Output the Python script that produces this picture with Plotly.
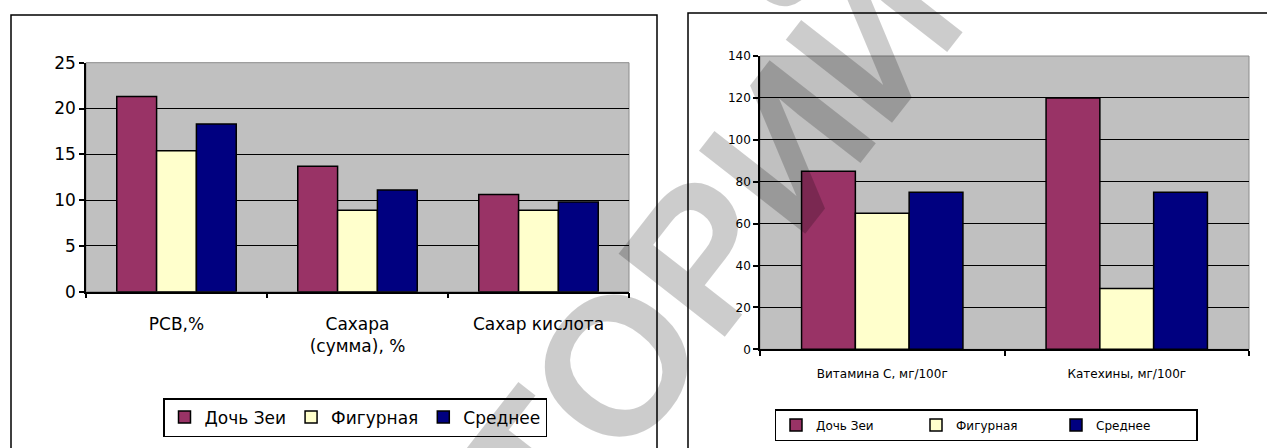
import plotly.graph_objects as go

# Left chart: composition indicators
left_categories = ["РСВ,%", "Сахара<br>(сумма), %", "Сахар кислота"]
left_doch_zei = [21.3, 13.7, 10.6]
left_figurnaya = [15.4, 8.9, 8.9]
left_srednee = [18.3, 11.1, 9.8]
left_yticks = [0, 5, 10, 15, 20, 25]

# Right chart: vitamin C and catechins
right_categories = ["Витамина С, мг/100г", "Катехины, мг/100г"]
right_doch_zei = [85, 120]
right_figurnaya = [65, 29]
right_srednee = [75, 75]
right_yticks = [0, 20, 40, 60, 80, 100, 120, 140]

series_names = ["Дочь Зеи", "Фигурная", "Среднее"]
series_colors = ["#993366", "#FFFFCC", "#000080"]

W, H = 1267, 448


def px_x(p):
    return p / W


def px_y(p):
    return 1 - p / H


FONT = "DejaVu Sans"

fig = go.Figure()

for name, color, vals in zip(series_names, series_colors,
                             [left_doch_zei, left_figurnaya, left_srednee]):
    fig.add_trace(go.Bar(
        x=left_categories, y=vals, name=name,
        marker=dict(color=color, line=dict(color="black", width=1.5)),
        xaxis="x", yaxis="y", legend="legend",
    ))

for name, color, vals in zip(series_names, series_colors,
                             [right_doch_zei, right_figurnaya, right_srednee]):
    fig.add_trace(go.Bar(
        x=right_categories, y=vals, name=name,
        marker=dict(color=color, line=dict(color="black", width=1.5)),
        xaxis="x2", yaxis="y2", legend="legend2",
    ))

common_x = dict(
    type="category", tickson="boundaries", ticks="outside", ticklen=5,
    tickwidth=1.5, tickcolor="black", showline=True, linecolor="black",
    linewidth=1.5, showgrid=False, automargin=False, fixedrange=True,
)
common_y = dict(
    ticks="outside", ticklen=5, tickwidth=1.5, tickcolor="black",
    showline=True, linecolor="black", linewidth=1.5, showgrid=True,
    gridcolor="black", gridwidth=1, zeroline=False, automargin=False,
    fixedrange=True,
)

fig.update_layout(
    width=W, height=H,
    margin=dict(l=0, r=0, t=0, b=0),
    autosize=False,
    paper_bgcolor="white",
    plot_bgcolor="#C0C0C0",
    barmode="group",
    bargap=0.34,
    bargroupgap=0,
    showlegend=True,
    xaxis=dict(common_x, domain=[px_x(86), px_x(629)], anchor="y",
               tickfont=dict(family=FONT, size=17, color="black"),
               ticklabelstandoff=16),
    yaxis=dict(common_y, domain=[px_y(291.7), px_y(62.7)], anchor="x",
               range=[0, 25], tickvals=left_yticks,
               tickfont=dict(family=FONT, size=17, color="black")),
    xaxis2=dict(common_x, domain=[px_x(760), px_x(1249)], anchor="y2",
                tickfont=dict(family=FONT, size=12, color="black"),
                ticklabelstandoff=13),
    yaxis2=dict(common_y, domain=[px_y(349.3), px_y(56)], anchor="x2",
                range=[0, 140], tickvals=right_yticks,
                tickfont=dict(family=FONT, size=12, color="black")),
    legend=dict(
        orientation="h", x=px_x(355), xanchor="center",
        y=px_y(398), yanchor="top",
        bordercolor="black", borderwidth=1.5, bgcolor="white",
        font=dict(family=FONT, size=17, color="black"),
    ),
    legend2=dict(
        orientation="h", x=px_x(986), xanchor="center",
        y=px_y(409), yanchor="top",
        bordercolor="black", borderwidth=1.5, bgcolor="white",
        entrywidth=95,
        font=dict(family=FONT, size=12, color="black"),
    ),
)

# Chart frames
fig.add_shape(type="rect", xref="paper", yref="paper",
              x0=px_x(11), x1=px_x(657), y0=px_y(452), y1=px_y(15),
              line=dict(color="black", width=1.5), fillcolor="rgba(0,0,0,0)",
              layer="below")
fig.add_shape(type="rect", xref="paper", yref="paper",
              x0=px_x(688), x1=px_x(1275), y0=px_y(452), y1=px_y(13),
              line=dict(color="black", width=1.5), fillcolor="rgba(0,0,0,0)",
              layer="below")

# Plot-area outline (top and right edges in grey)
for xr, yr in (("x domain", "y domain"), ("x2 domain", "y2 domain")):
    fig.add_shape(type="rect", xref=xr, yref=yr, x0=0, x1=1, y0=0, y1=1,
                  line=dict(color="#8c8c8c", width=1), layer="below")

# Repository watermark
fig.add_annotation(
    text="<b>РЕПОЗИТОРИЙ</b>", xref="paper", yref="paper",
    x=px_x(455), y=px_y(570), xanchor="center", yanchor="middle",
    textangle=-52, showarrow=False,
    font=dict(family="Liberation Sans", size=196, color="rgba(0,0,0,0.2)"),
)

fig.write_html("out.html")
